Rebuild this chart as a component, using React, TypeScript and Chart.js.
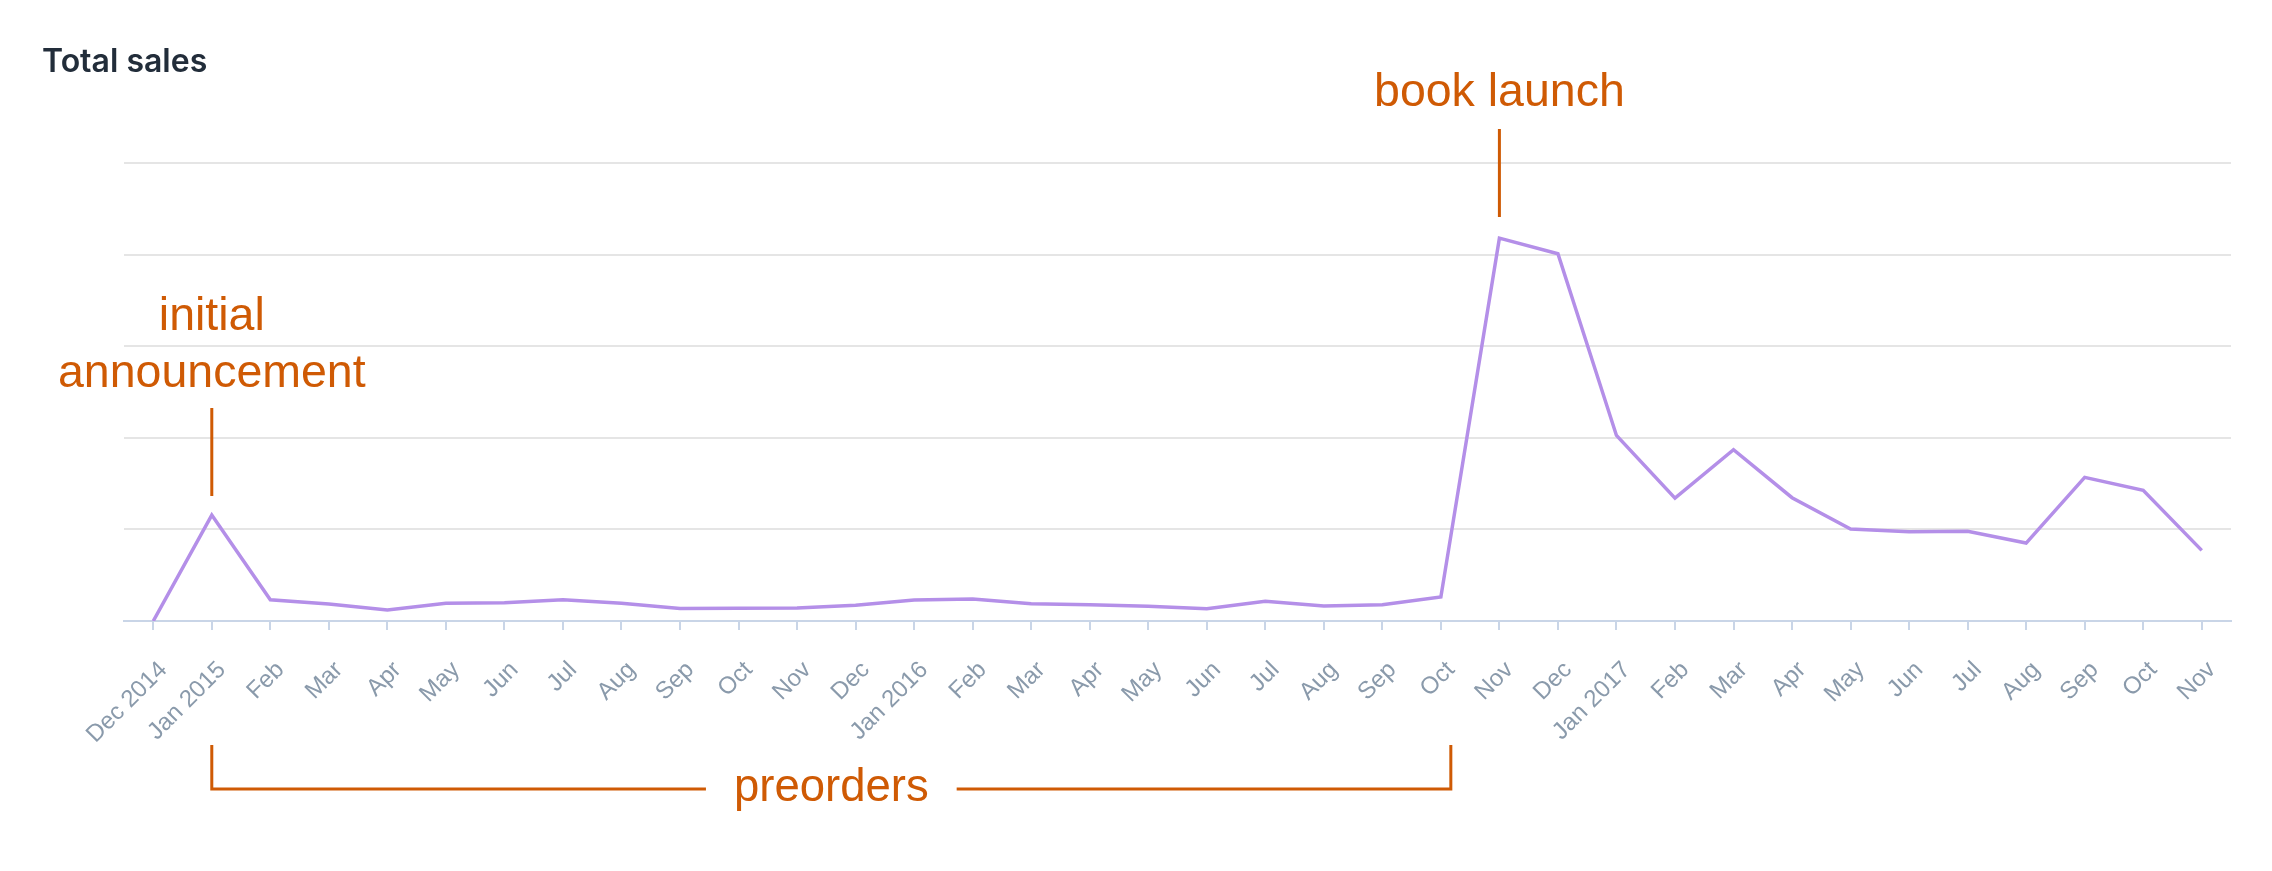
import React, { useEffect, useRef } from 'react';
import { Chart, registerables } from 'chart.js';

Chart.register(...registerables);

// monthly labels, Dec 2014 .. Nov 2017
const months = [
  'Dec 2014', 'Jan 2015', 'Feb', 'Mar', 'Apr', 'May', 'Jun', 'Jul', 'Aug', 'Sep', 'Oct', 'Nov',
  'Dec', 'Jan 2016', 'Feb', 'Mar', 'Apr', 'May', 'Jun', 'Jul', 'Aug', 'Sep', 'Oct', 'Nov',
  'Dec', 'Jan 2017', 'Feb', 'Mar', 'Apr', 'May', 'Jun', 'Jul', 'Aug', 'Sep', 'Oct', 'Nov',
];

// (no y labels in the original, so the unit is arbitrary)
const sales = [
  0, 1156, 232, 185, 120, 193, 200, 232, 193, 136, 140, 143,
  171, 229, 240, 189, 178, 160, 134, 215, 164, 178, 263, 4180,
  4010, 2026, 1342, 1870, 1346, 1004, 975, 979, 851, 1568, 1426, 771,
];

const yMax = 5000;
const yStep = 1000;

// where the notes point
const announceIdx = 1;
const launchIdx = 23;
const preorderEndIdx = 22;

const ORANGE = '#cf5a04';
const PURPLE = '#b48fe8';
const AXIS = '#c9d5e7';

const notesPlugin = {
  id: 'notes',
  afterDraw(chart: any) {
    const { ctx } = chart;
    const xs = chart.scales.x;
    ctx.save();

    ctx.fillStyle = '#222d3a';
    ctx.font = '600 32px Inter';
    ctx.textAlign = 'left';
    ctx.textBaseline = 'alphabetic';
    ctx.fillText('Total sales', 42, 72);

    ctx.fillStyle = ORANGE;
    ctx.strokeStyle = ORANGE;
    ctx.lineWidth = 3;
    ctx.lineCap = 'butt';
    ctx.font = '46.5px "Liberation Sans"';
    ctx.textAlign = 'center';

    const vline = (x: number, y1: number, y2: number) => {
      ctx.beginPath();
      ctx.moveTo(x, y1);
      ctx.lineTo(x, y2);
      ctx.stroke();
    };

    const xa = xs.getPixelForValue(announceIdx);
    ctx.fillText('initial', xa, 330);
    ctx.fillText('announcement', xa, 387);
    vline(xa, 408, 496);

    const xb = xs.getPixelForValue(launchIdx);
    ctx.fillText('book launch', xb, 106);
    vline(xb, 129, 217);

    // preorders bracket
    const left = xa;
    const step = xs.getPixelForValue(1) - xs.getPixelForValue(0);
    const right = xs.getPixelForValue(preorderEndIdx) + step * 0.17;
    const mid = (left + right) / 2;
    const yb = 789;
    ctx.font = '45.5px "Liberation Sans"';
    const w = ctx.measureText('preorders').width;
    ctx.fillText('preorders', mid, 801);
    ctx.beginPath();
    ctx.moveTo(left, 745);
    ctx.lineTo(left, yb);
    ctx.lineTo(mid - w / 2 - 28, yb);
    ctx.moveTo(mid + w / 2 + 28, yb);
    ctx.lineTo(right, yb);
    ctx.lineTo(right, 745);
    ctx.stroke();

    ctx.restore();
  },
};

const App: React.FC = () => {
  const canvasRef = useRef<HTMLCanvasElement>(null);

  useEffect(() => {
    if (!canvasRef.current) return;
    const chart = new Chart(canvasRef.current, {
      type: 'line',
      data: {
        labels: months,
        datasets: [
          {
            label: 'Total sales',
            data: sales,
            borderColor: PURPLE,
            borderWidth: 3.5,
            pointRadius: 0,
            tension: 0,
            fill: false,
          },
        ],
      },
      options: {
        animation: false,
        responsive: true,
        maintainAspectRatio: false,
        layout: { padding: { left: 124, right: 41, top: 163, bottom: 0 } },
        plugins: {
          legend: { display: false },
          title: { display: false },
          tooltip: { enabled: false },
        },
        scales: {
          x: {
            type: 'category',
            offset: true,
            afterFit: (scale: any) => {
              scale.height = 250;
            },
            grid: {
              display: true,
              drawOnChartArea: false,
              drawTicks: true,
              tickLength: 9,
              color: AXIS,
              lineWidth: 2,
            },
            border: { display: true, color: AXIS, width: 2 },
            ticks: {
              autoSkip: false,
              minRotation: 45,
              maxRotation: 45,
              padding: 26,
              color: '#8a9aab',
              font: { family: '"Liberation Sans", Arial, sans-serif', size: 24 },
              showLabelBackdrop: true,
              backdropColor: 'rgba(0,0,0,0)',
              backdropPadding: 0,
            },
          },
          y: {
            min: 0,
            max: yMax,
            afterFit: (scale: any) => {
              scale.width = 0;
            },
            grid: { color: '#e5e5e5', lineWidth: 2, drawTicks: false },
            border: { display: false },
            ticks: { display: false, stepSize: yStep },
          },
        },
      },
      plugins: [notesPlugin],
    });
    return () => chart.destroy();
  }, []);

  return (
    <div style={{ position: 'absolute', left: 0, top: 0, width: 2272, height: 871, background: '#fff' }}>
      <canvas ref={canvasRef} />
    </div>
  );
};

export default App;
